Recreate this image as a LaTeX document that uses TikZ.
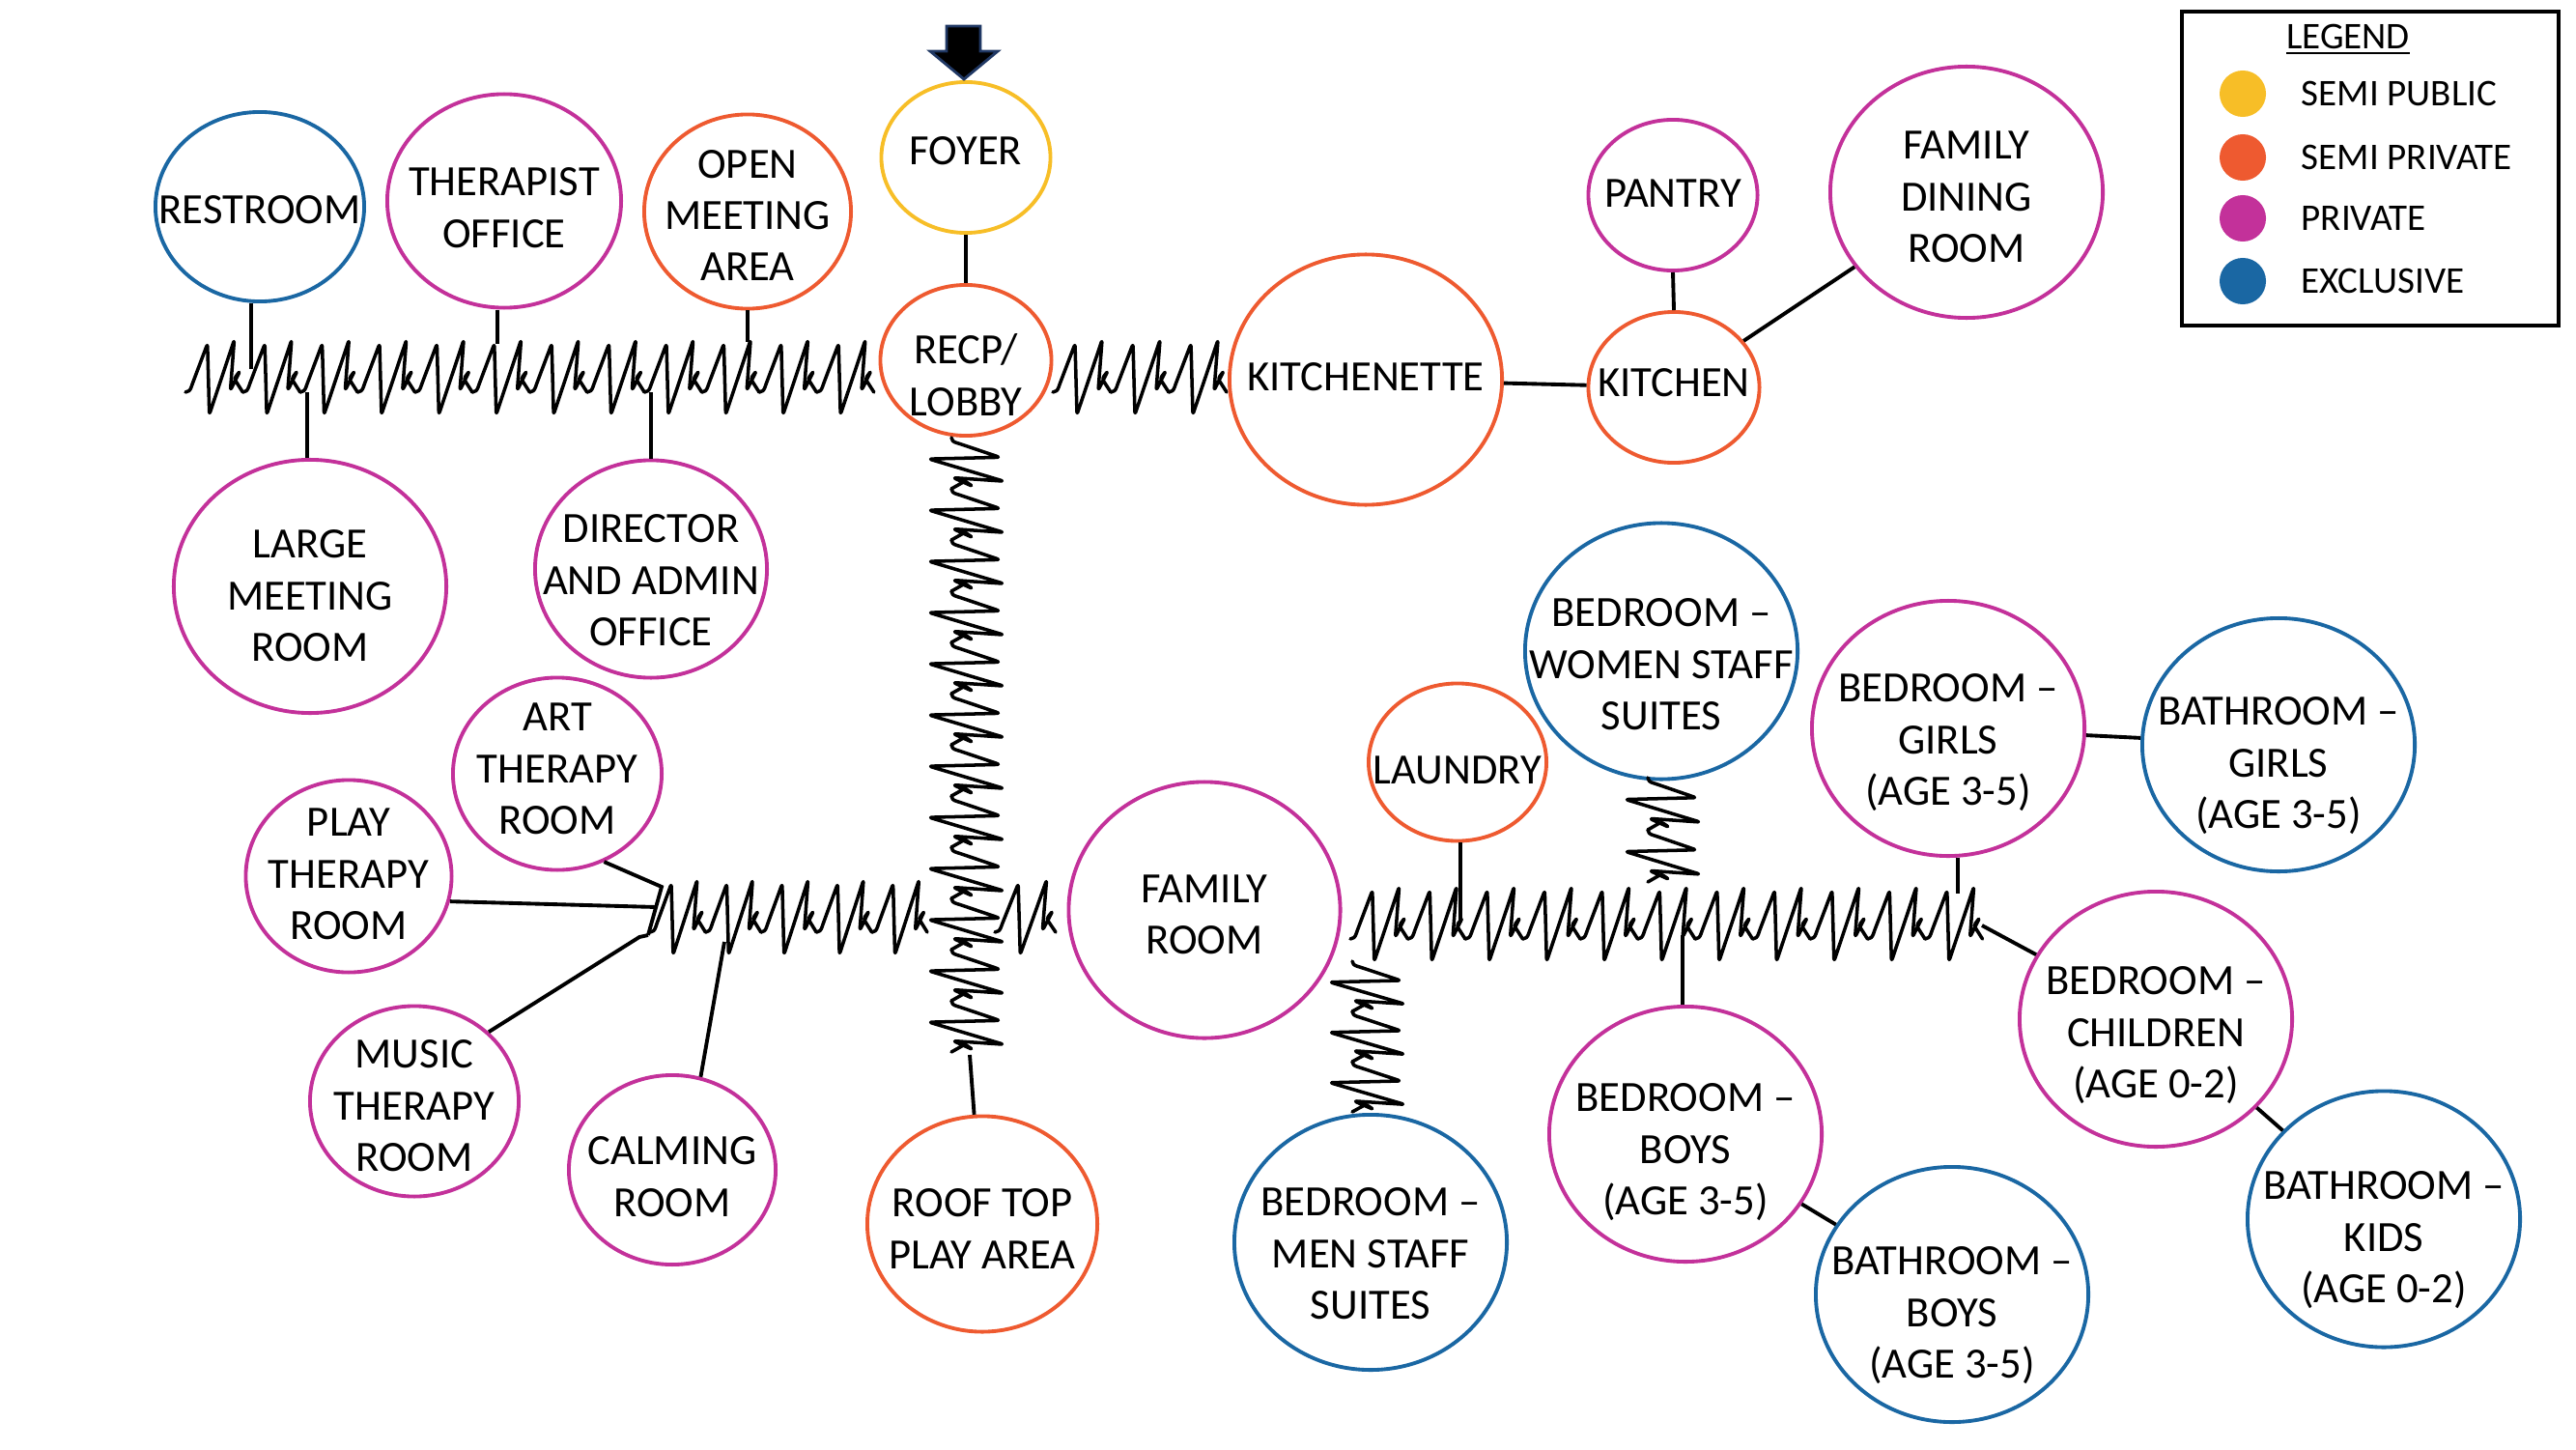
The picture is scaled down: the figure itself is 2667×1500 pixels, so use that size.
\documentclass[tikz,border=0pt]{standalone}
\usepackage{fontspec}
\setmainfont{Carlito}
\usetikzlibrary{shapes.geometric}
\definecolor{yel}{HTML}{F7BE27}
\definecolor{ora}{HTML}{EE5A30}
\definecolor{mag}{HTML}{C3319A}
\definecolor{blu}{HTML}{1A67A3}
\definecolor{arrowblue}{HTML}{203864}
\newcommand\rmsz{\fontsize{12.7pt}{15.2pt}\selectfont}
\newcommand\lgsz{\fontsize{11.1pt}{13pt}\selectfont}
\tikzset{
  room/.style={ellipse, line width=1.1pt, inner sep=0pt},
  roomtext/.style={align=center, font=\rmsz, inner sep=0pt},
  conn/.style={line width=1.1pt, black},
  sq/.style={line width=1pt, black, line join=round, line cap=round, rounded corners=0.8pt},
  legtext/.style={anchor=west, font=\lgsz, inner sep=0pt},
  legdot/.style={circle, inner sep=0pt, minimum size=0.48cm}
}
% name, x, y, width(cm), height(cm), colour, text, text shift down (px)
\newcommand\room[8]{\node[room, draw=#6, minimum width=#4cm, minimum height=#5cm] (#1) at (#2,#3) {};
  \node[roomtext] (#1t) at ($(#1)+(0,#8)$) {#7};}
\usetikzlibrary{calc}
\newcommand\hsq[4]{\foreach \k in {1,...,#3}{\begin{scope}[shift={({#1+(\k-1)*#4},#2)},xscale=#4/60]
  \draw[sq] (0,0) .. controls (3,0) and (5,-2) .. (7,-8) -- (23,-50) -- (25,23) -- (51,-54) -- (47,-2) -- (57,-22) -- (51,-14) -- (60,0);
  \end{scope}}}
\newcommand\vsq[4]{\foreach \k in {1,...,#3}{\begin{scope}[shift={(#1,{#2+(\k-1)*#4})},yscale=#4/51]
  \draw[sq] (0,0) .. controls (0,2.55) and (2,4.25) .. (8,5.95) -- (50,19.6) -- (-23,21.3) -- (54,43.4) -- (2,40) -- (22,48.5) -- (14,43.4) -- (0,51);
  \end{scope}}}
\begin{document}
\begin{tikzpicture}[x=0.01cm, y=-0.01cm]
\useasboundingbox (0,0) rectangle (2667,1500);
% rooms
\room{rest}{269}{214}{2.16}{1.96}{blu}{RESTROOM}{3}
\room{ther}{522}{208}{2.42}{2.21}{mag}{THERAPIST\\OFFICE}{7}
\room{open}{774}{219}{2.14}{2.01}{ora}{OPEN\\MEETING\\AREA}{4}
\room{foyer}{1000}{163}{1.75}{1.56}{yel}{FOYER}{-7}
\room{recp}{1000}{373}{1.77}{1.56}{ora}{RECP/\\LOBBY}{15}
\room{kitte}{1414}{393}{2.82}{2.59}{ora}{KITCHENETTE}{-3}
\room{kitch}{1733}{401}{1.77}{1.56}{ora}{KITCHEN}{-5}
\room{pantry}{1732}{202}{1.75}{1.56}{mag}{PANTRY}{-2}
\room{dining}{2036}{199}{2.82}{2.60}{mag}{FAMILY\\DINING\\ROOM}{5}
\room{large}{321}{607}{2.82}{2.62}{mag}{LARGE\\MEETING\\ROOM}{10}
\room{dir}{674}{589}{2.40}{2.25}{mag}{DIRECTOR\\AND ADMIN\\OFFICE}{12}
\room{art}{577}{801}{2.16}{1.99}{mag}{ART\\THERAPY\\ROOM}{-5}
\room{play}{361}{907}{2.13}{1.99}{mag}{PLAY\\THERAPY\\ROOM}{-2}
\room{music}{429}{1140}{2.16}{1.97}{mag}{MUSIC\\THERAPY\\ROOM}{5}
\room{calm}{696}{1211}{2.14}{1.96}{mag}{CALMING\\ROOM}{7}
\room{roof}{1017}{1267}{2.38}{2.23}{ora}{ROOF TOP\\PLAY AREA}{5}
\room{famroom}{1247}{942}{2.81}{2.65}{mag}{FAMILY\\ROOM}{5}
\room{laundry}{1509}{789}{1.84}{1.63}{ora}{LAUNDRY}{8}
\room{women}{1720}{674}{2.82}{2.65}{blu}{BEDROOM –\\WOMEN STAFF\\SUITES}{14}
\room{girlsbed}{2017}{754}{2.82}{2.64}{mag}{BEDROOM –\\GIRLS\\(AGE 3-5)}{15}
\room{girlsbath}{2359}{771}{2.82}{2.62}{blu}{BATHROOM –\\GIRLS\\(AGE 3-5)}{22}
\room{child}{2232}{1055}{2.82}{2.64}{mag}{BEDROOM –\\CHILDREN\\(AGE 0-2)}{17}
\room{kidsbath}{2468}{1262}{2.82}{2.65}{blu}{BATHROOM –\\KIDS\\(AGE 0-2)}{22}
\room{boysbed}{1745}{1174}{2.82}{2.64}{mag}{BEDROOM –\\BOYS\\(AGE 3-5)}{19}
\room{boysbath}{2021}{1340}{2.82}{2.64}{blu}{BATHROOM –\\BOYS\\(AGE 3-5)}{22}
\room{men}{1419}{1286}{2.82}{2.64}{blu}{BEDROOM –\\MEN STAFF\\SUITES}{12}
% entry arrow
\draw[fill=black, draw=arrowblue, line width=0.8pt, line join=miter] (980,27) -- (1015,27) -- (1015,53) -- (1033,53) -- (998,82) -- (963,53) -- (980,53) -- cycle;
% corridors (squiggles)
\hsq{192}{406}{12}{59.4}
\hsq{1090}{406}{3}{60}
\vsq{985}{453}{12}{53}
\hsq{673}{965}{5}{57.4}
\hsq{1030}{965}{1}{63}
\hsq{1398}{972}{11}{59.5}
\vsq{1400}{995}{3}{52}
\vsq{1706}{805}{2}{54}
% connector points
\coordinate (c1) at (260,382);
\coordinate (c2) at (515,356);
\coordinate (c3) at (774,354);
\coordinate (c4) at (318,406);
\coordinate (c5) at (674,406);
\coordinate (cr) at (1004,1092);
\coordinate (ja) at (685,918);
\coordinate (jp) at (680,939);
\coordinate (jm1) at (662,970);
\coordinate (jm) at (671,968);
\coordinate (jc) at (750,975);
\coordinate (cl) at (1512,955);
\coordinate (cb) at (1742,968);
\coordinate (cg) at (2027,925);
\coordinate (jch) at (2052,958);
% connectors
\draw[conn] (c1 |- rest.south) -- (c1);
\draw[conn] (c2 |- ther.south) -- (c2);
\draw[conn] (c3 |- open.south) -- (c3);
\draw[conn] (c4 |- large.north) -- (c4);
\draw[conn] (c5 |- dir.north) -- (c5);
\draw[conn] (foyer.south) -- (recp.north);
\draw[conn] (kitte) -- (kitch);
\draw[conn] (pantry.south) -- (kitch.north);
\draw[conn] (kitch) -- (dining);
\draw[conn] (cr) -- (roof);
\draw[conn] (art.-62) -- (ja) -- (jm);
\draw[conn] (play.-14) -- (jp);
\draw[conn] (music.43) -- (jm1) -- (jm);
\draw[conn] (calm.73) -- (jc);
\draw[conn] (cl |- laundry.south) -- (cl);
\draw[conn] (cb |- boysbed.north) -- (cb);
\draw[conn] (cg |- girlsbed.south) -- (cg);
\draw[conn] (girlsbed) -- (girlsbath);
\draw[conn] (jch) -- (child);
\draw[conn] (child) -- (kidsbath);
\draw[conn] (boysbed) -- (boysbath);
% legend
\node[draw, line width=1pt, anchor=north west, minimum width=3.9cm, minimum height=3.25cm, inner sep=0pt] (legend) at (2257,10) {};
\node[font=\lgsz, inner sep=0pt] (legtitle) at (2431,41) {\underline{LEGEND}};
\node[legdot, fill=yel] (d1) at (2322,97) {};
\node[legdot, fill=ora] (d2) at (2322,163) {};
\node[legdot, fill=mag] (d3) at (2322,226) {};
\node[legdot, fill=blu] (d4) at (2322,291) {};
\node[legtext] (l1) at (2382,97) {SEMI PUBLIC};
\node[legtext] (l2) at (2382,163) {SEMI PRIVATE};
\node[legtext] (l3) at (2382,226) {PRIVATE};
\node[legtext] (l4) at (2382,291) {EXCLUSIVE};
\end{tikzpicture}
\end{document}
